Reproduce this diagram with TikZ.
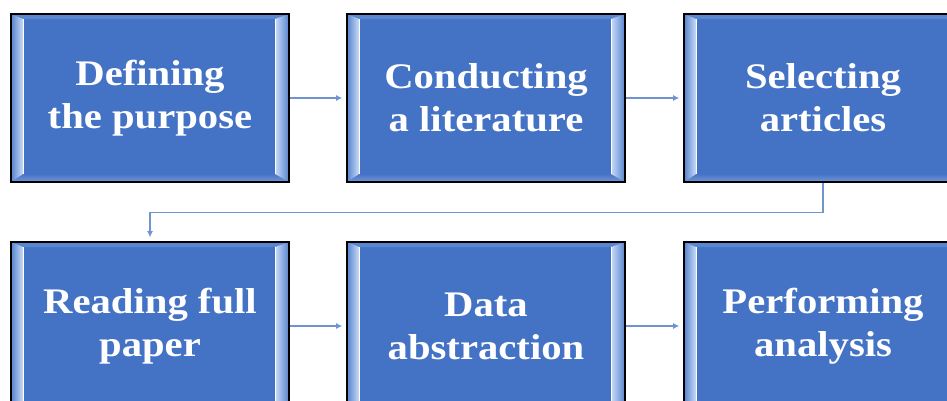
\documentclass[tikz,border=0pt]{standalone}
\usepackage{fontspec}
\setmainfont{Liberation Serif}[FakeStretch=1.13]
\usetikzlibrary{arrows.meta,calc,shadows}
\definecolor{boxblue}{HTML}{4472C4}
\definecolor{linkblue}{HTML}{7093D2}
\definecolor{bevlight}{HTML}{C9DCF7}
\definecolor{bevmid}{HTML}{5683CE}
\definecolor{bevtop}{HTML}{5A86D0}
\definecolor{bevbotA}{HTML}{4673C3}
\definecolor{bevbotB}{HTML}{7398D8}
\tikzset{
  stepbox/.style={draw=black, line width=1.6pt, fill=boxblue,
    minimum width=278pt, minimum height=168pt, inner sep=0pt,
    text=white, align=center,
    font=\fontsize{36}{43}\selectfont\bfseries,
    drop shadow={shadow xshift=1.2pt, shadow yshift=-1.2pt, opacity=.45, fill=black!60},
    path picture={
      \coordinate (@sw) at (path picture bounding box.south west);
      \coordinate (@ne) at (path picture bounding box.north east);
      \coordinate (@nw) at (@sw |- @ne);
      \coordinate (@se) at (@ne |- @sw);
      \coordinate (@isw) at ($(@sw)+(12pt,8pt)$);
      \coordinate (@ine) at ($(@ne)+(-14pt,-5pt)$);
      \coordinate (@inw) at (@isw |- @ine);
      \coordinate (@ise) at (@ine |- @isw);
      \fill[bevtop] (@nw) -- (@ne) -- (@ine) -- (@inw) -- cycle;
      \shade[top color=bevbotA, bottom color=bevbotB] (@sw) -- (@se) -- (@ise) -- (@isw) -- cycle;
      \shade[left color=bevmid, right color=bevlight] (@sw) -- (@nw) -- (@inw) -- (@isw) -- cycle;
      \shade[left color=bevlight, right color=bevmid] (@se) -- (@ne) -- (@ine) -- (@ise) -- cycle;
      \draw[white, line width=0.8pt] (@inw) -- (@isw);
      \draw[white, line width=0.8pt] (@ine) -- (@ise);
    }},
  link/.style={draw=linkblue, line width=1.2pt,
    -{Latex[length=6pt,width=6pt]}, shorten >=4pt}
}
\begin{document}
\begin{tikzpicture}[x=1pt,y=-1pt]
  \useasboundingbox (0,0) rectangle (947,401);
  \clip (0,0) rectangle (947,401);
  \node[stepbox] (b1) at (150,98) {Defining\\the purpose};
  \node[stepbox] (b2) at (486,98) {Conducting\\a literature};
  \node[stepbox] (b3) at (823,98) {Selecting\\articles};
  \node[stepbox] (b4) at (150,326) {Reading full\\paper};
  \node[stepbox] (b5) at (486,326) {Data\\abstraction};
  \node[stepbox] (b6) at (823,326) {Performing\\analysis};
  \draw[link] (b1) -- (b2);
  \draw[link] (b2) -- (b3);
  \draw[link] (b3.south) -- ++(0,30) -| (b4.north);
  \draw[link] (b4) -- (b5);
  \draw[link] (b5) -- (b6);
\end{tikzpicture}
\end{document}
